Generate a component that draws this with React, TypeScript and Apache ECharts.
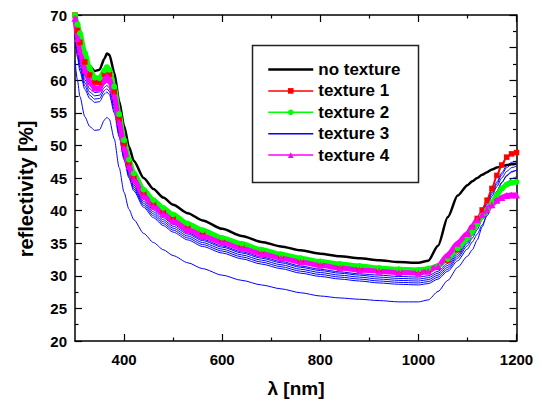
import React, { useEffect, useRef } from 'react';
import * as echarts from 'echarts';

// wavelength grid (nm)
const wavelengths = [300, 305, 310, 320, 330, 340, 350, 360, 365, 370, 380, 390, 400, 410, 420, 440, 460, 480, 500, 530, 560, 600, 640, 680, 720, 760, 800, 840, 880, 920, 960, 1000, 1020, 1040, 1060, 1080, 1100, 1110, 1120, 1130, 1140, 1150, 1160, 1170, 1180, 1190, 1200];

// reflectivity [%]
const noTexture = [70.0, 67.8, 66.0, 63.6, 62.2, 61.4, 61.6, 63.3, 64.1, 63.9, 61.2, 56.8, 53.0, 49.8, 47.6, 45.0, 43.3, 42.0, 40.9, 39.6, 38.5, 37.2, 36.1, 35.2, 34.5, 33.9, 33.4, 33.0, 32.7, 32.4, 32.1, 32.0, 32.3, 34.6, 39.0, 42.3, 43.9, 44.5, 45.0, 45.5, 45.9, 46.3, 46.6, 46.8, 47.0, 47.1, 47.2];
const texture1 = [70.0, 67.6, 65.8, 62.8, 60.8, 59.7, 59.7, 60.9, 61.3, 60.9, 58.2, 54.0, 50.2, 47.3, 45.2, 42.7, 41.1, 39.9, 39.0, 37.7, 36.7, 35.6, 34.7, 33.8, 33.1, 32.4, 31.9, 31.5, 31.2, 30.9, 30.7, 30.6, 30.8, 31.3, 32.4, 34.0, 36.0, 37.3, 38.8, 40.1, 41.6, 43.4, 45.4, 47.0, 48.2, 48.7, 48.9];
const texture2 = [70.0, 68.6, 67.2, 64.2, 61.8, 60.4, 60.3, 61.5, 62.0, 61.6, 59.0, 54.8, 50.8, 47.8, 45.7, 43.2, 41.6, 40.4, 39.4, 38.0, 37.0, 35.8, 34.9, 34.0, 33.3, 32.7, 32.2, 31.8, 31.5, 31.2, 31.0, 30.9, 31.1, 31.5, 32.6, 34.2, 35.8, 36.8, 38.0, 39.2, 40.1, 41.2, 42.4, 43.4, 44.0, 44.3, 44.4];
const texture4 = [69.5, 66.4, 64.4, 61.6, 59.8, 58.8, 58.8, 60.1, 60.6, 60.2, 57.6, 53.6, 49.6, 46.8, 44.8, 42.3, 40.7, 39.5, 38.4, 37.1, 36.1, 35.1, 34.2, 33.4, 32.7, 32.1, 31.6, 31.2, 30.9, 30.7, 30.5, 30.4, 30.7, 31.5, 33.2, 35.0, 36.5, 37.6, 38.6, 39.4, 40.2, 40.9, 41.6, 42.0, 42.3, 42.4, 42.4];
// texture 3: several measured blue curves
const texture3a = [69.0, 65.6, 63.4, 60.6, 59.2, 58.6, 58.7, 59.9, 60.2, 59.8, 57.0, 52.9, 49.0, 46.2, 44.2, 41.7, 40.1, 38.9, 37.9, 36.6, 35.6, 34.6, 33.7, 32.9, 32.2, 31.5, 31.0, 30.6, 30.3, 30.1, 29.9, 29.8, 30.0, 30.7, 31.9, 33.6, 35.6, 36.8, 38.2, 39.7, 41.3, 42.9, 44.4, 45.8, 46.9, 47.4, 47.6];
const texture3b = [68.5, 65.0, 62.9, 60.1, 58.7, 58.1, 58.2, 59.4, 59.7, 59.3, 56.5, 52.5, 48.7, 45.9, 43.9, 41.4, 39.8, 38.6, 37.6, 36.4, 35.4, 34.4, 33.5, 32.7, 32.0, 31.3, 30.8, 30.4, 30.1, 29.8, 29.6, 29.5, 29.7, 30.4, 31.6, 33.3, 35.3, 36.5, 37.9, 39.4, 41.0, 42.6, 44.1, 45.5, 46.6, 47.1, 47.3];
const texture3c = [68.0, 64.5, 62.4, 59.6, 58.2, 57.6, 57.7, 58.9, 59.2, 58.8, 56.0, 52.1, 48.4, 45.6, 43.6, 41.1, 39.5, 38.3, 37.3, 36.1, 35.1, 34.1, 33.2, 32.4, 31.7, 31.0, 30.5, 30.1, 29.8, 29.5, 29.3, 29.2, 29.4, 30.1, 31.3, 33.0, 35.0, 36.2, 37.6, 39.1, 40.7, 42.2, 43.7, 45.0, 46.0, 46.6, 46.8];
const texture3d = [67.5, 64.0, 61.9, 59.1, 57.7, 57.1, 57.2, 58.4, 58.7, 58.3, 55.5, 51.7, 48.1, 45.3, 43.3, 40.8, 39.2, 38.0, 37.0, 35.8, 34.8, 33.8, 32.9, 32.1, 31.4, 30.7, 30.2, 29.8, 29.5, 29.2, 29.0, 28.9, 29.1, 29.8, 31.0, 32.7, 34.6, 35.8, 37.1, 38.6, 40.1, 41.6, 43.0, 44.3, 45.3, 45.9, 46.2];
const texture3e = [67.0, 63.5, 61.4, 58.6, 57.2, 56.6, 56.7, 57.9, 58.2, 57.8, 55.0, 51.3, 47.8, 45.0, 43.0, 40.5, 38.9, 37.7, 36.7, 35.5, 34.5, 33.5, 32.6, 31.8, 31.1, 30.4, 29.9, 29.5, 29.2, 28.9, 28.7, 28.6, 28.8, 29.5, 30.7, 32.3, 34.1, 35.2, 36.4, 37.8, 39.2, 40.6, 42.0, 43.3, 44.3, 44.9, 45.2];
const texture3f = [63.0, 60.0, 57.5, 54.4, 52.9, 52.3, 52.4, 53.9, 54.3, 54.0, 51.0, 46.6, 42.8, 40.2, 38.6, 36.5, 35.1, 34.0, 33.1, 32.0, 31.1, 30.1, 29.3, 28.6, 28.0, 27.4, 26.9, 26.6, 26.4, 26.2, 26.0, 26.0, 26.3, 27.6, 29.3, 31.3, 33.0, 34.0, 35.5, 37.5, 39.5, 41.3, 42.9, 44.3, 45.4, 46.0, 46.2];

// axis ticks
const xMajorTicks = [400, 600, 800, 1000, 1200];
const xMinorTicks = [500, 700, 900, 1100];
const legendNames = ['no texture', 'texture 1', 'texture 2', 'texture 3', 'texture 4'];

const FONT = 'Arial, "Liberation Sans", Helvetica, sans-serif';

const pairs = (vals: number[]) => wavelengths.map((w, i) => [w, vals[i]]);

export default function App() {
  const ref = useRef<HTMLDivElement>(null);
  useEffect(() => {
    if (!ref.current) return;
    const chart = echarts.init(ref.current, undefined, { renderer: 'svg' });

    const axisLine = { show: true, onZero: false, lineStyle: { color: '#000', width: 1.5 } };
    const xAxisBase = (position: 'top' | 'bottom', ticks: number[], len: number, labels: boolean) => ({
      type: 'value',
      position,
      min: 300,
      max: 1200,
      axisLine: len > 5 ? axisLine : { show: false },
      axisTick: { show: true, inside: true, length: len, customValues: ticks, lineStyle: { color: '#000', width: 1.2 } },
      axisLabel: labels
        ? {
            show: true,
            customValues: xMajorTicks,
            formatter: (v: number) => String(v),
            fontSize: 15,
            fontWeight: 'bold',
            color: '#000',
            fontFamily: FONT,
            margin: 11,
          }
        : { show: false },
      splitLine: { show: false },
    });
    const yAxisBase = (position: 'left' | 'right', labels: boolean) => ({
      type: 'value',
      position,
      min: 20,
      max: 70,
      interval: 5,
      axisLine,
      axisTick: { show: true, inside: true, length: 7, lineStyle: { color: '#000', width: 1.2 } },
      minorTick: { show: true, splitNumber: 2, length: 3.5, lineStyle: { color: '#000', width: 1.2 } },
      axisLabel: labels
        ? { show: true, fontSize: 15, fontWeight: 'bold', color: '#000', fontFamily: FONT, margin: 8 }
        : { show: false },
      splitLine: { show: false },
      minorSplitLine: { show: false },
    });

    const blueLine = (name: string, vals: number[]) => ({
      name,
      type: 'line',
      data: pairs(vals),
      showSymbol: false,
      symbol: 'none',
      smooth: 0.25,
      smoothMonotone: 'x',
      lineStyle: { color: '#0000ff', width: 1 },
      itemStyle: { color: '#0000ff' },
    });
    const markerLine = (name: string, vals: number[], color: string, symbol: string, size: number, width: number) => ({
      name,
      type: 'line',
      data: pairs(vals),
      showSymbol: true,
      symbol,
      symbolSize: size,
      smooth: 0.25,
      smoothMonotone: 'x',
      lineStyle: { color, width },
      itemStyle: { color },
    });

    chart.setOption({
      animation: false,
      backgroundColor: '#fff',
      grid: { left: 75, right: 25.5, top: 15, bottom: 64, containLabel: false },
      xAxis: [
        xAxisBase('bottom', xMajorTicks, 7, true),
        xAxisBase('bottom', xMinorTicks, 3.5, false),
        xAxisBase('top', xMajorTicks, 7, false),
        xAxisBase('top', xMinorTicks, 3.5, false),
      ],
      yAxis: [yAxisBase('left', true), yAxisBase('right', false)],
      legend: {
        left: 267,
        top: 61,
        orient: 'vertical',
        itemWidth: 45,
        itemHeight: 7,
        itemGap: 4.4,
        padding: 0,
        selectedMode: false,
        lineStyle: { width: 1.5 },
        textStyle: { fontSize: 17, fontWeight: 'bold', color: '#000', fontFamily: FONT },
        data: [
          { name: legendNames[0], itemStyle: { opacity: 0 }, lineStyle: { width: 2.5 } },
          { name: legendNames[1], lineStyle: { width: 1.5 } },
          { name: legendNames[2], lineStyle: { width: 1.5 } },
          { name: legendNames[3], itemStyle: { opacity: 0 }, lineStyle: { width: 1.5 } },
          { name: legendNames[4], lineStyle: { width: 1.5 } },
        ],
      },
      graphic: [
        {
          type: 'rect',
          left: 250,
          top: 43,
          shape: { width: 166, height: 137 },
          style: { fill: 'none', stroke: '#222', lineWidth: 1.5 },
          z: 100,
        },
        {
          type: 'text',
          x: 296,
          y: 388,
          style: { text: 'λ [nm]', fill: '#000', font: `bold 19px ${FONT}`, align: 'center', verticalAlign: 'middle' },
        },
        {
          type: 'text',
          x: 26,
          y: 189,
          rotation: Math.PI / 2,
          style: { text: 'reflectivity [%]', fill: '#000', font: `bold 20px ${FONT}`, align: 'center', verticalAlign: 'middle' },
        },
      ],
      series: [
        blueLine('texture 3', texture3a),
        blueLine('texture 3 (b)', texture3b),
        blueLine('texture 3 (c)', texture3c),
        blueLine('texture 3 (d)', texture3d),
        blueLine('texture 3 (e)', texture3e),
        blueLine('texture 3 (f)', texture3f),
        {
          name: 'no texture',
          type: 'line',
          data: pairs(noTexture),
          showSymbol: false,
          symbol: 'none',
          smooth: 0.25,
          smoothMonotone: 'x',
          lineStyle: { color: '#000', width: 2.5 },
          itemStyle: { color: '#000' },
        },
        markerLine('texture 1', texture1, '#ff0000', 'rect', 5.5, 2),
        markerLine('texture 2', texture2, '#00ff00', 'circle', 6, 5),
        markerLine('texture 4', texture4, '#ff00ff', 'triangle', 7, 5),
      ],
    });
    return () => chart.dispose();
  }, []);
  return <div ref={ref} style={{ position: 'fixed', left: 0, top: 0, width: 542, height: 405 }} />;
}
